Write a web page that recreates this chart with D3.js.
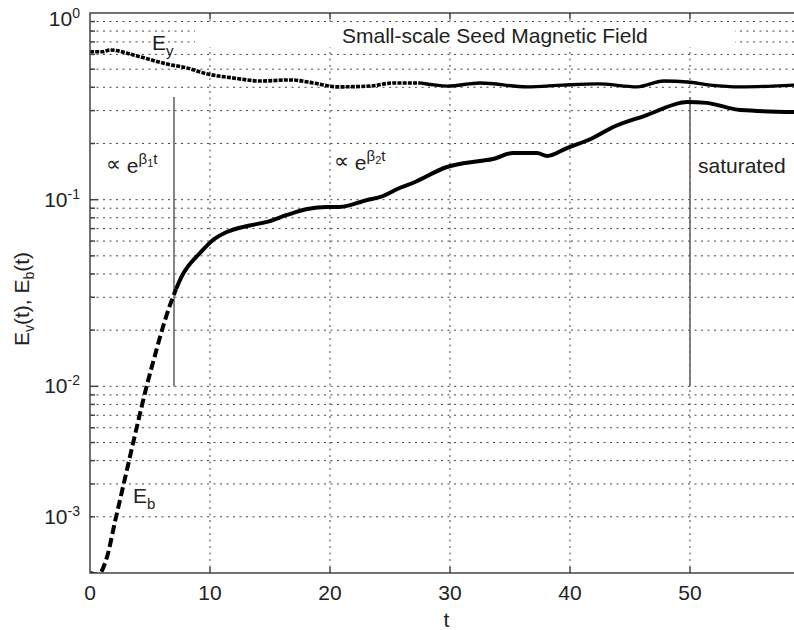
<!DOCTYPE html>
<html>
<head>
<meta charset="utf-8">
<script src="https://cdn.jsdelivr.net/npm/d3@7"></script>
<style>
  html, body { margin: 0; padding: 0; background: #fff; }
  svg { display: block; font-family: "Liberation Sans", Arial, Helvetica, sans-serif; }
</style>
</head>
<body>
<div id="chart"></div>
<script>
/**
 * Small-scale seed magnetic field: E_v(t) and E_b(t) on a log axis
 */

// Kinetic energy curve (E_y)
const eyTimes  = [0, 1, 1.7, 3.6, 6.4, 8.1, 9.8, 11.9, 14.2, 16.7, 18.6, 20.6, 23.3, 25.3, 27.5,
                  29.8, 32.5, 36.4, 39.4, 42.3, 45.6, 47.8, 49.8, 51.7, 54.2, 56.9, 58.7];
const eyValues = [0.62, 0.62, 0.634, 0.596, 0.533, 0.507, 0.471, 0.449, 0.432, 0.438, 0.422, 0.402,
                  0.406, 0.422, 0.422, 0.406, 0.422, 0.402, 0.411, 0.417, 0.402, 0.432, 0.427, 0.411,
                  0.402, 0.406, 0.411];

// Magnetic energy curve (E_b)
const ebTimes  = [0, 0.67, 1.42, 2.08, 2.75, 3.42, 4.08, 4.75, 5.42, 6.08, 6.67, 6.92, 7.17, 7.75,
                  8.08, 9.17, 10.25, 11.4, 13.1, 14.75, 16.4, 18.1, 19.75, 20.8, 23.1, 24.2, 25.8,
                  26.9, 29.75, 32.5, 33.6, 35.25, 37.25, 38.1, 39.75, 41.9, 43.6, 46.4, 49.2,
                  49.75, 51.4, 54.2, 58.7];
const ebValues = [0.001, 0.00098, 0.00122, 0.00188, 0.00289, 0.00445, 0.00677, 0.0102, 0.0147,
                  0.0208, 0.0273, 0.0301, 0.0332, 0.0400, 0.0431, 0.0518, 0.0608, 0.0671, 0.0723,
                  0.076, 0.0828, 0.0891, 0.0914, 0.0914, 0.0996, 0.1034, 0.1155, 0.1228, 0.1496,
                  0.1611, 0.1652, 0.178, 0.178, 0.1714, 0.189, 0.214, 0.245, 0.284, 0.330, 0.334,
                  0.330, 0.302, 0.295];

// Where each curve changes from broken to solid line
const EY_DOTTED_UNTIL = 27.5;
const EB_DASHED_UNTIL = 7.17;

// Axis ticks and labels
const xTicks = [0, 10, 20, 30, 40, 50];
const yTickValues = [1, 0.1, 0.01, 0.001];
const yLabelAt = [1, 0.1, 0.01, 0.002];   // where the labels sit in the picture
const yLabelExp = ['0', '-1', '-2', '-3'];

// Regime markers (vertical lines)
const markerTimes = [7, 50];
const markerRange = [0.355, 0.01];

const width = 794;
const height = 630;
const margin = {top: 13, right: 0, bottom: 57, left: 90};
const FONT = 21;
const INK = '#222';

const svg = d3.select('#chart')
    .append('svg')
    .attr('width', width)
    .attr('height', height);

const xScale = d3.scaleLinear()
    .domain([0, 58.67])
    .range([margin.left, width - margin.right]);

const yScale = d3.scaleLog()
    .domain([0.001, 1])
    .range([height - margin.bottom, margin.top]);

const plotLeft = margin.left, plotRight = width - margin.right;
const plotTop = margin.top, plotBottom = height - margin.bottom;

svg.append('clipPath').attr('id', 'plot-clip')
    .append('rect')
    .attr('x', plotLeft).attr('y', plotTop)
    .attr('width', plotRight - plotLeft).attr('height', plotBottom - plotTop);

// Dotted grid
const grid = svg.append('g').attr('stroke', '#444').attr('stroke-width', 1)
    .attr('stroke-dasharray', '2,4.5');

grid.selectAll('line.h')
    .data(yScale.ticks().filter(v => v > 0.001 && v < 1))
    .enter().append('line')
    .attr('class', 'h')
    .attr('x1', plotLeft).attr('x2', plotRight)
    .attr('y1', d => yScale(d)).attr('y2', d => yScale(d));

grid.selectAll('line.v')
    .data(xTicks.filter(t => t > 0))
    .enter().append('line')
    .attr('class', 'v')
    .attr('x1', d => xScale(d)).attr('x2', d => xScale(d))
    .attr('y1', plotTop).attr('y2', plotBottom);

// White box behind the title
svg.append('rect')
    .attr('x', 195).attr('y', 24)
    .attr('width', 540).attr('height', 23)
    .attr('fill', '#fff');

svg.append('text')
    .attr('x', 342).attr('y', 43)
    .style('font-size', FONT + 'px')
    .attr('fill', INK)
    .text('Small-scale Seed Magnetic Field');

// Regime marker lines
svg.selectAll('line.marker')
    .data(markerTimes)
    .enter().append('line')
    .attr('class', 'marker')
    .attr('x1', d => xScale(d)).attr('x2', d => xScale(d))
    .attr('y1', yScale(markerRange[0])).attr('y2', yScale(markerRange[1]))
    .attr('stroke', '#666').attr('stroke-width', 1.6);

// Curves
const line = d3.line()
    .x(d => xScale(d.t))
    .y(d => yScale(d.v))
    .curve(d3.curveMonotoneX);

const ey = eyTimes.map((t, i) => ({t, v: eyValues[i]}));
const eb = ebTimes.map((t, i) => ({t, v: ebValues[i]}));

const curves = svg.append('g').attr('clip-path', 'url(#plot-clip)')
    .attr('fill', 'none').attr('stroke', '#000');

curves.append('path')
    .attr('d', line(ey.filter(d => d.t <= EY_DOTTED_UNTIL)))
    .attr('stroke-width', 3.6)
    .attr('stroke-dasharray', '4,1.2');
curves.append('path')
    .attr('d', line(ey.filter(d => d.t >= EY_DOTTED_UNTIL)))
    .attr('stroke-width', 3.4);

curves.append('path')
    .attr('d', line(eb.filter(d => d.t <= EB_DASHED_UNTIL)))
    .attr('stroke-width', 4)
    .attr('stroke-dasharray', '9,4');
curves.append('path')
    .attr('d', line(eb.filter(d => d.t >= EB_DASHED_UNTIL)))
    .attr('stroke-width', 4);

// Frame and inward ticks
const frame = svg.append('g').attr('stroke', '#444').attr('stroke-width', 1.5).attr('fill', 'none');
frame.append('rect')
    .attr('x', plotLeft).attr('y', plotTop)
    .attr('width', plotRight - plotLeft + 2).attr('height', plotBottom - plotTop);

yScale.ticks().filter(v => v > 0.001 && v < 1).forEach(v => {
    const major = yTickValues.includes(v);
    frame.append('line')
        .attr('x1', plotLeft).attr('x2', plotLeft + (major ? 8 : 5))
        .attr('y1', yScale(v)).attr('y2', yScale(v));
});

xTicks.filter(t => t > 0).forEach(t => {
    frame.append('line')
        .attr('x1', xScale(t)).attr('x2', xScale(t))
        .attr('y1', plotBottom).attr('y2', plotBottom - 6);
    frame.append('line')
        .attr('x1', xScale(t)).attr('x2', xScale(t))
        .attr('y1', plotTop).attr('y2', plotTop + 6);
});

// X tick labels
svg.selectAll('text.xtick')
    .data(xTicks)
    .enter().append('text')
    .attr('class', 'xtick')
    .attr('x', d => xScale(d))
    .attr('y', 600)
    .attr('text-anchor', 'middle')
    .attr('fill', INK)
    .style('font-size', FONT + 'px')
    .text(d => d);

// Y tick labels as 10^n
yLabelAt.forEach((v, i) => {
    const y = Math.max(yScale(v), 19) + 7;
    const txt = svg.append('text')
        .attr('x', 80).attr('y', y)
        .attr('text-anchor', 'end')
        .attr('fill', INK)
        .style('font-size', FONT + 'px');
    txt.append('tspan').text('10');
    txt.append('tspan')
        .attr('dy', -8)
        .style('font-size', '14px')
        .text(yLabelExp[i]);
});

// Axis titles
svg.append('text')
    .attr('x', xScale(29.7)).attr('y', 627)
    .attr('text-anchor', 'middle')
    .attr('fill', INK)
    .style('font-size', FONT + 'px')
    .text('t');

const yTitle = svg.append('text')
    .attr('transform', 'translate(29,299) rotate(-90)')
    .attr('text-anchor', 'middle')
    .attr('fill', INK)
    .style('font-size', FONT + 'px');
yTitle.append('tspan').text('E');
yTitle.append('tspan').attr('dy', 5).style('font-size', '14px').text('v');
yTitle.append('tspan').attr('dy', -5).text('(t), E');
yTitle.append('tspan').attr('dy', 5).style('font-size', '14px').text('b');
yTitle.append('tspan').attr('dy', -5).text('(t)');

// Curve labels
function subLabel(x, y, main, sub) {
    const t = svg.append('text')
        .attr('x', x).attr('y', y)
        .attr('fill', INK)
        .style('font-size', FONT + 'px');
    t.append('tspan').text(main);
    t.append('tspan').attr('dy', 6).style('font-size', '15px').text(sub);
}
subLabel(152, 50, 'E', 'y');
subLabel(133, 503, 'E', 'b');

// Growth-rate annotations
function growthLabel(x, y, idx) {
    const t = svg.append('text')
        .attr('x', x).attr('y', y)
        .attr('fill', INK)
        .style('font-size', FONT + 'px');
    t.append('tspan').attr('dy', -2).text('\u221D');
    t.append('tspan').attr('dy', 2).text(' e');
    t.append('tspan').attr('dy', -9).style('font-size', '15px').text('\u03B2');
    t.append('tspan').attr('dy', 3).style('font-size', '11px').text(idx);
    t.append('tspan').attr('dy', -3).style('font-size', '15px').text('t');
}
growthLabel(106, 173, '1');
growthLabel(334, 170, '2');

svg.append('text')
    .attr('x', 698).attr('y', 173)
    .attr('fill', INK)
    .style('font-size', FONT + 'px')
    .text('saturated');
</script>
</body>
</html>
